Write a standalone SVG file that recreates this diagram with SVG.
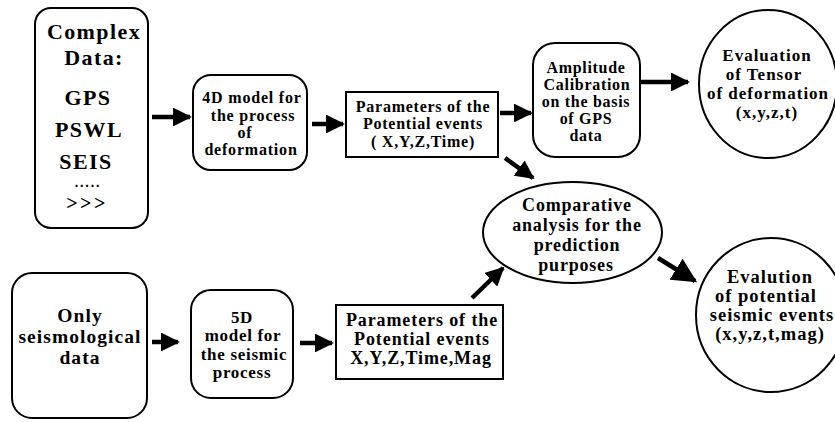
<svg xmlns="http://www.w3.org/2000/svg" width="835" height="422" viewBox="0 0 835 422">
<defs>
<style>
.box{fill:#fff;stroke:#000;stroke-width:2}
.t{font-family:"Liberation Serif","Times New Roman",serif;font-weight:bold;fill:#000;text-anchor:middle}
.c{stroke:#000;stroke-width:4.5;fill:none}
</style>
<marker id="ah" viewBox="0 0 10 10" refX="9" refY="5" markerWidth="4.2" markerHeight="4.2" markerUnits="strokeWidth" orient="auto"><path d="M0,0 L10,5 L0,10 Z" fill="#000"/></marker>
<marker id="ahb" viewBox="0 0 10 10" refX="9" refY="5" markerWidth="5.5" markerHeight="5.5" markerUnits="strokeWidth" orient="auto"><path d="M0,0 L10,5 L0,10 Z" fill="#000"/></marker>
</defs>
<rect width="835" height="422" fill="#fff"/>
<g id="complex" class="t" font-size="22" letter-spacing="1.4">
<rect class="box" x="35" y="8" width="113" height="220" rx="16"/>
<text x="94" y="39">Complex</text>
<text x="94" y="65">Data:</text>
<text x="88" y="105">GPS</text>
<text x="89" y="137">PSWL</text>
<text x="86" y="169">SEIS</text>
<text x="88" y="187" font-size="14" letter-spacing="1.8">.....</text>
<text x="87" y="210" font-size="20" letter-spacing="2.5">&gt;&gt;&gt;</text>
</g>
<g id="model4d" class="t" font-size="16" letter-spacing="0.8">
<rect class="box" x="193" y="75" width="114" height="95" rx="18"/>
<text x="252" y="103">4D model  for</text>
<text x="253" y="121">the process</text>
<text x="245" y="138">of</text>
<text x="251" y="155">deformation</text>
</g>
<g id="params1" class="t" font-size="16" letter-spacing="0.75">
<rect class="box" x="346" y="92" width="152" height="65"/>
<text x="423" y="112">Parameters of the</text>
<text x="423" y="129">Potential events</text>
<text x="423" y="147">( X,Y,Z,Time)</text>
</g>
<g id="amplitude" class="t" font-size="16" letter-spacing="0.7">
<rect class="box" x="533" y="43" width="107" height="114" rx="22"/>
<text x="586" y="73">Amplitude</text>
<text x="587" y="90">Calibration</text>
<text x="586" y="107">on the basis</text>
<text x="586" y="124">of GPS</text>
<text x="586" y="141">data</text>
</g>
<g id="tensor" class="t" font-size="17" letter-spacing="1">
<ellipse class="box" cx="768" cy="84" rx="69" ry="74"/>
<text x="767" y="61">Evaluation</text>
<text x="764" y="80">of Tensor</text>
<text x="768" y="99">of deformation</text>
<text x="767" y="118">(x,y,z,t)</text>
</g>
<g id="seismo" class="t" font-size="19.5" letter-spacing="1.05">
<rect class="box" x="12" y="273" width="135" height="145" rx="20"/>
<text x="80" y="322">Only</text>
<text x="80" y="343">seismological</text>
<text x="80" y="364">data</text>
</g>
<g id="model5d" class="t" font-size="17" letter-spacing="0.7">
<rect class="box" x="191" y="290" width="102" height="108" rx="20"/>
<text x="242" y="323">5D</text>
<text x="243" y="341">model for</text>
<text x="244" y="360">the seismic</text>
<text x="242" y="378">process</text>
</g>
<g id="params2" class="t" font-size="18" letter-spacing="0.9">
<rect class="box" x="336" y="305" width="167" height="74"/>
<text x="422" y="326">Parameters of the</text>
<text x="422" y="345">Potential events</text>
<text x="421" y="364">X,Y,Z,Time,Mag</text>
</g>
<g id="comparative" class="t" font-size="18" letter-spacing="0.8">
<ellipse class="box" cx="572.5" cy="232.5" rx="89.5" ry="50.5"/>
<text x="577" y="211">Comparative</text>
<text x="577" y="231">analysis for the</text>
<text x="577" y="251">prediction</text>
<text x="576" y="271">purposes</text>
</g>
<g id="seismicEvents" class="t" font-size="18.5" letter-spacing="1">
<ellipse class="box" cx="771" cy="315" rx="75" ry="77"/>
<text x="770" y="283">Evalution</text>
<text x="766" y="302">of potential</text>
<text x="772" y="321">seismic events</text>
<text x="770" y="340">(x,y,z,t,mag)</text>
</g>
<g id="connectors">
<line class="c" x1="152" y1="117" x2="190" y2="117" marker-end="url(#ah)"/>
<line class="c" x1="312" y1="124" x2="343" y2="124" marker-end="url(#ah)"/>
<line class="c" x1="500" y1="113" x2="531" y2="113" marker-end="url(#ah)"/>
<line class="c" x1="641" y1="82" x2="688" y2="82" marker-end="url(#ah)"/>
<line class="c" x1="505" y1="158" x2="533" y2="178" marker-end="url(#ah)"/>
<line class="c" x1="152" y1="342" x2="178" y2="342" marker-end="url(#ah)"/>
<line class="c" x1="300" y1="343" x2="332" y2="343" marker-end="url(#ah)"/>
<line class="c" x1="472" y1="298" x2="503" y2="268" marker-end="url(#ah)"/>
<line class="c" x1="658" y1="258" x2="695" y2="281" marker-end="url(#ahb)"/>
</g>
</svg>
